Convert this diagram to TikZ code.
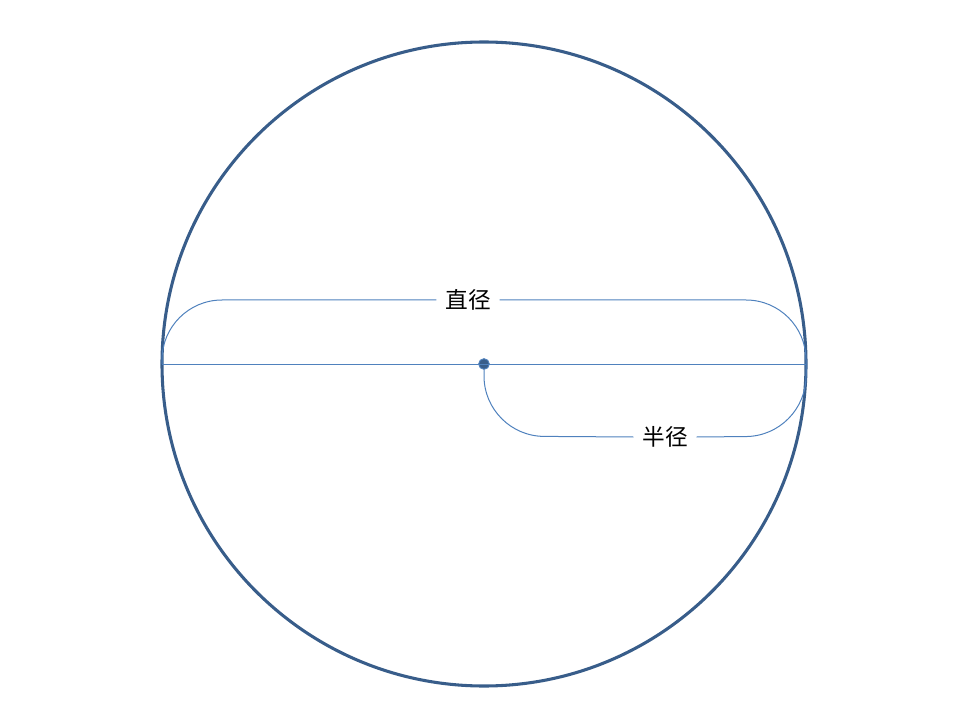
\documentclass[tikz,border=0pt]{standalone}
\usepackage{fontspec}
\newfontfamily\cjk{Noto Sans CJK SC}
\definecolor{rimblue}{HTML}{385D8A}
\definecolor{lineblue}{HTML}{4F81BD}
\tikzset{
  guide/.style={draw=lineblue,line width=0.75pt},
  brace/.style={guide,rounded corners=45pt},
  lbl/.style={font=\cjk\fontsize{17}{20}\selectfont,inner sep=6.5pt}
}
\begin{document}
\begin{tikzpicture}[x=0.75pt,y=-0.75pt]
\useasboundingbox (0,0) rectangle (960,720);

% Circle
\draw[rimblue,line width=2.3pt] (484,364) circle[radius=322];

% Points on the diameter
\coordinate (l) at (162,364);
\coordinate (r) at (806,364);
\node[circle,fill=rimblue,draw=lineblue,line width=0.7pt,inner sep=0pt,minimum size=8pt] (c) at (484,364) {};

% Diameter
\draw[guide] (l) -- (r);

% Labels
\node[lbl] (dlab) at (468,300) {直径};
\node[lbl] (rlab) at (665,437) {半径};

% Diameter brace
\draw[brace] (l) -- (162,300) -- (dlab.west);
\draw[brace] (dlab.east) -- (806,300) -- (r);

% Radius brace
\draw[brace] (c.south) -- (484,436) -- (rlab.west);
\draw[brace] (rlab.east) -- (806,436) -- (r);
\end{tikzpicture}
\end{document}
